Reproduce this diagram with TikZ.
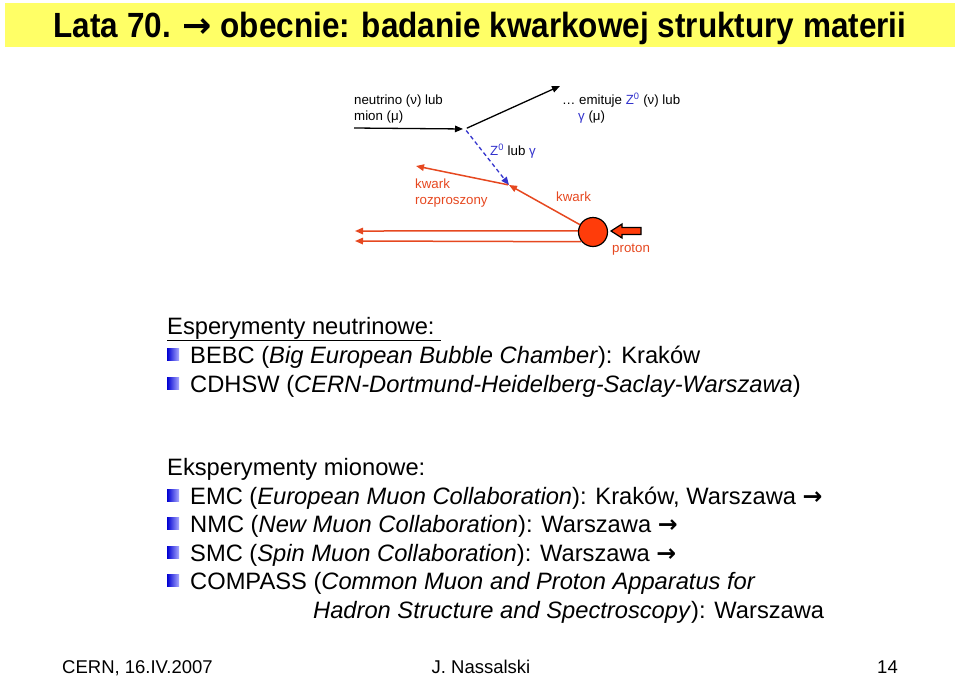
\documentclass[tikz,border=0pt]{standalone}
\usepackage{fontspec}
\setmainfont{Liberation Sans}
\newfontfamily\titlefont[FakeStretch=0.9]{Liberation Sans}
\newfontfamily\arrowfont{DejaVu Sans}
\newcommand{\nextarrow}{{\arrowfont\bfseries →}}
\usetikzlibrary{arrows.meta}

\definecolor{slideyellow}{RGB}{255,255,102}
\definecolor{kwarkred}{RGB}{230,72,32}
\definecolor{protonred}{RGB}{255,60,10}
\definecolor{bosonblue}{RGB}{51,51,204}
\definecolor{bulletblue}{RGB}{0,0,210}
\definecolor{bulletpale}{RGB}{170,170,255}

\tikzset{
  tip/.style={-{Triangle[length=8pt,width=6.5pt]}},
  lepton/.style={tip, draw=black, line width=1.3pt},
  boson/.style={tip, draw=bosonblue, line width=1.3pt, dash pattern=on 4pt off 3pt},
  quark/.style={tip, draw=kwarkred, line width=1.5pt},
  tag/.style={font=\fontsize{13.3}{15.5}\selectfont, inner sep=0pt, anchor=base west},
  redtag/.style={tag, text=kwarkred},
  item/.style={font=\fontsize{23.7}{28}\selectfont, inner sep=0pt, anchor=base west},
  bulletbox/.style={minimum size=12pt, inner sep=0pt, left color=bulletblue, right color=bulletpale},
  footer/.style={font=\fontsize{18.5}{20}\selectfont, inner sep=0pt, anchor=base}
}

\begin{document}
\begin{tikzpicture}[x=1pt, y=-1pt]
  \useasboundingbox (0,0) rectangle (960,678);
  \fill[slideyellow] (5,3) rectangle (955,47);
  \node[font=\titlefont\bfseries\fontsize{35}{40}\selectfont, inner sep=0pt, anchor=base] (title) at (480,37.5)
    {Lata 70. \nextarrow{} obecnie: badanie kwarkowej struktury materii};

  % scattering diagram
  \coordinate (lepin) at (354,128);
  \coordinate (vtx) at (465,129);
  \coordinate (lepout) at (560,86);
  \coordinate (qvtx) at (509,185);
  \coordinate (qout) at (416,166);
  \coordinate (remn1) at (355,231);
  \coordinate (remn2) at (355,241);
  \node[circle, draw=black, fill=protonred, line width=1.2pt, minimum size=29pt, inner sep=0pt] (prot) at (593,232) {};

  \draw[lepton, shorten >=2pt] (lepin) -- (vtx);
  \draw[lepton, shorten <=2pt] (vtx) -- (lepout);
  \draw[boson, shorten <=2pt] (vtx) -- (qvtx);
  \draw[quark] (prot) -- (qvtx);
  \draw[quark, shorten <=1pt] (qvtx) -- (qout);
  \draw[quark] (prot.176) -- (remn1);
  \draw[quark] (prot.220) -- (remn2);
  \draw[fill=protonred, line width=1.2pt, line join=miter]
    (611,231) -- (622,224) -- (622,227.5) -- (641,227.5) -- (641,234.5)
    -- (622,234.5) -- (622,238) -- cycle;

  \node[tag] (nu1) at (354,104.5) {neutrino (ν) lub};
  \node[tag] (nu2) at (354,120) {mion (μ)};
  \node[tag] (emit1) at (562,104.5) {… emituje \textcolor{bosonblue}{Z\textsuperscript{0}} (ν) lub};
  \node[tag] (emit2) at (578,120) {\textcolor{bosonblue}{γ} (μ)};
  \node[tag] (zlab) at (490,155.5) {\textcolor{bosonblue}{Z\textsuperscript{0}} lub \textcolor{bosonblue}{γ}};
  \node[redtag] (kr1) at (415,188.5) {kwark};
  \node[redtag] (kr2) at (415,204) {rozproszony};
  \node[redtag] (kin) at (556,201.5) {kwark};
  \node[redtag] (plab) at (612,252) {proton};

  % experiments
  \node[item] (esp) at (167,334) {\underline{Esperymenty neutrinowe:\ }};
  \node[bulletbox] (b1) at (173,354) {};
  \node[item] (bebc) at (190,363) {BEBC (\textit{Big European Bubble Chamber}): Kraków};
  \node[bulletbox] (b2) at (173,383) {};
  \node[item] (cdhsw) at (190,392) {CDHSW (\textit{CERN-Dortmund-Heidelberg-Saclay-Warszawa})};

  \node[item] (eksp) at (167,475) {Eksperymenty mionowe:};
  \node[bulletbox] (b3) at (173,495) {};
  \node[item] (emc) at (190,504) {EMC (\textit{European Muon Collaboration}): Kraków, Warszawa \nextarrow};
  \node[bulletbox] (b4) at (173,523) {};
  \node[item] (nmc) at (190,532) {NMC (\textit{New Muon Collaboration}): Warszawa \nextarrow};
  \node[bulletbox] (b5) at (173,552) {};
  \node[item] (smc) at (190,561) {SMC (\textit{Spin Muon Collaboration}): Warszawa \nextarrow};
  \node[bulletbox] (b6) at (173,580) {};
  \node[item] (compass) at (190,589) {COMPASS (\textit{Common Muon and Proton Apparatus for}};
  \node[item] (hadron) at (313,618) {\textit{Hadron Structure and Spectroscopy}): Warszawa};

  % footer
  \node[footer, anchor=base west] (place) at (62,673.5) {CERN, 16.IV.2007};
  \node[footer] (author) at (481,673.5) {J. Nassalski};
  \node[footer, anchor=base east] (page) at (898,673.5) {14};
\end{tikzpicture}
\end{document}
